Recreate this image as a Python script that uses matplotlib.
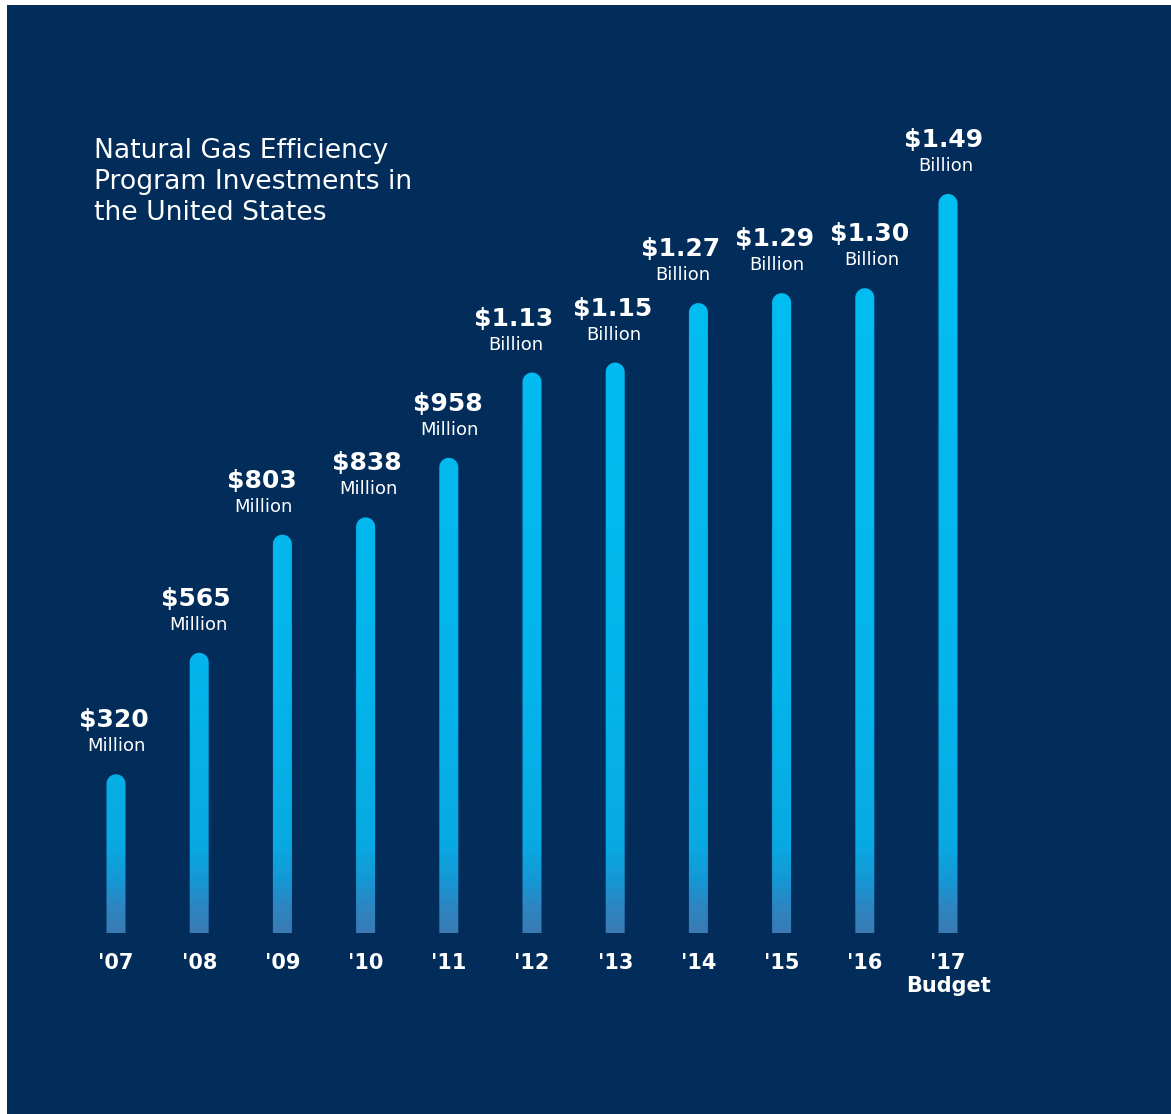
import numpy as np
import matplotlib
matplotlib.use("Agg")
import matplotlib.pyplot as plt
from matplotlib.path import Path
from matplotlib.patches import PathPatch, Rectangle
from matplotlib.colors import LinearSegmentedColormap

# ---- data ----
years = ["'07", "'08", "'09", "'10", "'11", "'12", "'13", "'14", "'15", "'16", "'17\nBudget"]
values_musd = [320, 565, 803, 838, 958, 1130, 1150, 1270, 1290, 1300, 1490]
value_labels = ["$320", "$565", "$803", "$838", "$958", "$1.13", "$1.15", "$1.27", "$1.29", "$1.30", "$1.49"]
unit_labels = ["Million"] * 5 + ["Billion"] * 6
title = "Natural Gas Efficiency\nProgram Investments in\nthe United States"

# layout: horizontal nudge of each value label (pixels)
label_dx = [-2, -3, -21, 1, -1, -18, -3, -18, -7, 5, -4]

# ---- style ----
BG = "#022D5B"
W, H, DPI = 1171, 1114, 100
fig = plt.figure(figsize=(W / DPI, H / DPI), dpi=DPI)
fig.patch.set_facecolor("white")
fig.add_artist(Rectangle((7 / W, 0), 1 - 7 / W, 1 - 5 / H, transform=fig.transFigure,
                         facecolor=BG, edgecolor="none", zorder=0))

ax = fig.add_axes([74.4 / W, 181 / H, 915.2 / W, 793.6 / H])
ax.set_facecolor("none")
ax.set_xlim(-0.5, len(values_musd) - 0.5)
ax.set_ylim(0, 1600)
for s in ax.spines.values():
    s.set_visible(False)
ax.tick_params(axis="y", left=False, labelleft=False)
ax.tick_params(axis="x", bottom=False, pad=11)

x = np.arange(len(values_musd))
bar_w_px = 19
px_per_x = 915.2 / len(values_musd)
bar_w = bar_w_px / px_per_x
bars = ax.bar(x, values_musd, width=bar_w, color="none", edgecolor="none")

ax.set_xticks(x)
ax.set_xticklabels(years, color="white", fontsize=15, fontweight="bold",
                   fontfamily="DejaVu Sans", linespacing=1.2)

# gradient (absolute y)
cmap = LinearSegmentedColormap.from_list(
    "g", [(0.0, "#3A7AB5"), (0.035, "#2C86C2"), (0.07, "#1598D5"),
          (0.12, "#08AAE3"), (0.35, "#04B5EC"), (1.0, "#00BFF3")])
grad = np.linspace(0, 1, 512).reshape(-1, 1)
ymax_grad = 1500

dy_per_px = 1600 / 793.6
r_px = bar_w_px / 2
r_y = r_px * dy_per_px

for b in bars:
    x0 = b.get_x()
    w = b.get_width()
    h = b.get_height()
    xc = x0 + w / 2
    theta = np.linspace(0, np.pi, 40)
    arc_x = xc + (w / 2) * np.cos(theta)
    arc_y = (h - r_y) + r_y * np.sin(theta)
    verts = [(x0, 0), (x0 + w, 0)] + list(zip(arc_x, arc_y)) + [(x0, 0)]
    codes = [Path.MOVETO] + [Path.LINETO] * (len(verts) - 2) + [Path.CLOSEPOLY]
    patch = PathPatch(Path(verts, codes), facecolor="none", edgecolor="none",
                      transform=ax.transData)
    ax.add_patch(patch)
    im = ax.imshow(grad, cmap=cmap, origin="lower", aspect="auto",
                   extent=[x0 - 0.1, x0 + w + 0.1, 0, ymax_grad], zorder=2,
                   interpolation="bilinear")
    im.set_clip_path(patch)

ax.set_xlim(-0.5, len(values_musd) - 0.5)
ax.set_ylim(0, 1600)

for xi, v, vl, ul, dx in zip(x, values_musd, value_labels, unit_labels, label_dx):
    ax.annotate(vl, (xi, v), xytext=(dx, 54), textcoords="offset pixels",
                ha="center", va="center", color="white", fontsize=18,
                fontweight="bold", fontfamily="DejaVu Sans")
    ax.annotate(ul, (xi, v), xytext=(dx + 2, 28), textcoords="offset pixels",
                ha="center", va="center", color="white", fontsize=13,
                fontfamily="DejaVu Sans")

fig.text(94 / W, 1 - 138 / H, title, ha="left", va="top", color="white",
         fontsize=19.2, fontfamily="DejaVu Sans", linespacing=1.24)

fig.savefig("out.png", dpi=DPI, facecolor=fig.get_facecolor())
